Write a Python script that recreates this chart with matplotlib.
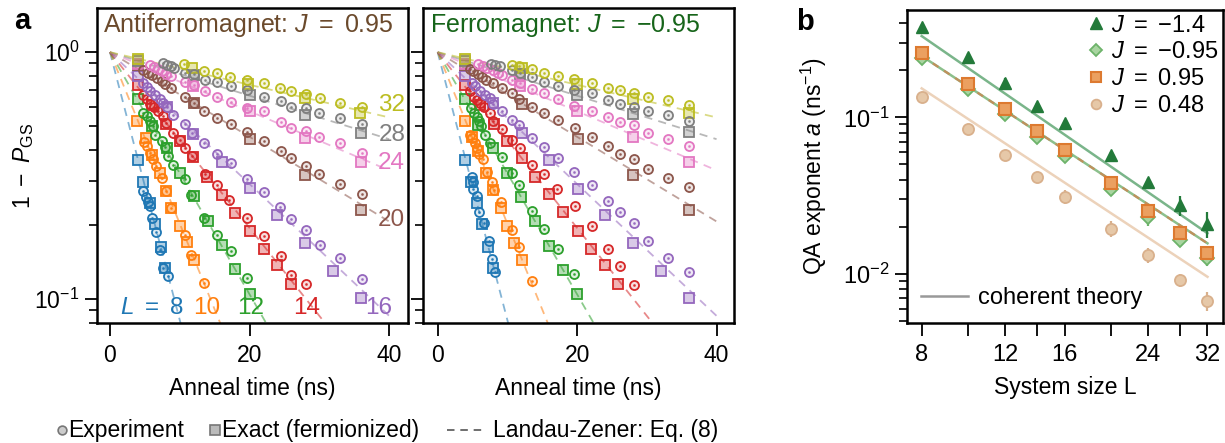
import matplotlib
matplotlib.use("Agg")
import matplotlib.pyplot as plt
import numpy as np
from matplotlib.lines import Line2D
from matplotlib.colors import to_rgba
from matplotlib.ticker import LogLocator, NullFormatter, FixedLocator, FixedFormatter, NullLocator

plt.rcParams['font.family'] = ['Liberation Sans', 'DejaVu Sans']
plt.rcParams['mathtext.fontset'] = 'custom'
plt.rcParams['mathtext.rm'] = 'Liberation Sans'
plt.rcParams['mathtext.it'] = 'Liberation Sans:italic'
plt.rcParams['mathtext.bf'] = 'Liberation Sans:bold'

# ---------------- data: panel a ----------------
L_vals = [8, 10, 12, 14, 16, 20, 24, 28, 32]
L_colors = ['#1f77b4', '#ff7f0e', '#2ca02c', '#d62728', '#9467bd',
            '#8c564b', '#e377c2', '#7f7f7f', '#bcbd22']

# Landau-Zener lines: value 1 at t=0 and value at t=40 ns
lz_t = [0, 40]
lz_end = [4.54e-5, 1.66e-3, 0.0109, 0.0376, 0.0854, 0.206, 0.332, 0.444, 0.544]

afm_exp_t = {
    8: [4.7, 5.1, 5.5, 5.8, 6.0, 6.6, 7.2, 7.6, 8.3],
    10: [4.9, 5.3, 5.7, 6.1, 6.6, 7.4, 8.0, 8.8, 10.7, 11.6, 13.5],
    12: [4.8, 5.3, 5.8, 6.1, 6.5, 7.4, 7.9, 8.3, 9.1, 10.7, 11.6, 13.5, 15.3, 17.4, 19.7],
    14: [4.7, 5.3, 5.7, 6.3, 6.9, 7.6, 8.0, 9.1, 10.0, 10.7, 11.7, 13.6, 15.3, 17.1, 19.6, 22.1, 24.5, 26.0, 28.1],
    16: [4.7, 5.3, 5.8, 6.5, 7.1, 7.6, 8.1, 9.1, 10.7, 11.8, 13.5, 15.3, 17.3, 19.6, 22.1, 24.4, 26.0, 28.1, 30.1, 33.0, 36.1],
    20: [4.8, 5.4, 6.0, 6.7, 7.4, 7.9, 8.8, 10.7, 12.1, 13.5, 15.3, 17.3, 19.6, 22.1, 24.5, 26.0, 28.1, 30.0, 33.0, 36.1],
    24: [5.7, 6.3, 6.9, 7.4, 8.0, 8.8, 10.7, 12.0, 13.6, 15.3, 17.3, 19.6, 22.1, 24.5, 26.0, 28.1, 30.0, 33.0, 36.1],
    28: [7.6, 8.1, 8.7, 9.2, 10.7, 12.1, 13.6, 15.3, 17.3, 19.6, 22.1, 24.5, 26.0, 28.1, 30.0, 33.0, 36.1],
    32: [10.6, 13.5, 15.3, 17.2, 19.6, 22.1, 24.4, 26.0, 28.1, 30.1, 32.9, 36.1],
}
afm_exp_v = {
    8: [0.275, 0.260, 0.248, 0.238, 0.212, 0.187, 0.158, 0.134, 0.124],
    10: [0.434, 0.415, 0.390, 0.368, 0.347, 0.308, 0.275, 0.233, 0.182, 0.151, 0.116],
    12: [0.569, 0.552, 0.524, 0.503, 0.462, 0.438, 0.412, 0.380, 0.349, 0.306, 0.264, 0.212, 0.182, 0.156, 0.122],
    14: [0.671, 0.645, 0.618, 0.598, 0.575, 0.552, 0.515, 0.472, 0.441, 0.408, 0.380, 0.321, 0.290, 0.252, 0.212, 0.180, 0.149, 0.125, 0.115],
    16: [0.749, 0.721, 0.699, 0.671, 0.645, 0.621, 0.602, 0.557, 0.512, 0.469, 0.428, 0.387, 0.355, 0.306, 0.270, 0.235, 0.210, 0.190, 0.165, 0.146, 0.120],
    20: [0.848, 0.827, 0.809, 0.785, 0.765, 0.742, 0.715, 0.657, 0.621, 0.578, 0.543, 0.512, 0.474, 0.437, 0.396, 0.372, 0.346, 0.320, 0.292, 0.266],
    24: [0.889, 0.869, 0.853, 0.835, 0.817, 0.797, 0.760, 0.738, 0.697, 0.657, 0.631, 0.593, 0.580, 0.519, 0.495, 0.481, 0.452, 0.428, 0.390],
    28: [0.903, 0.889, 0.875, 0.861, 0.827, 0.817, 0.772, 0.760, 0.726, 0.700, 0.661, 0.635, 0.602, 0.593, 0.569, 0.540, 0.511],
    32: [0.894, 0.840, 0.822, 0.792, 0.772, 0.748, 0.715, 0.697, 0.678, 0.651, 0.625, 0.598],
}
afm_exact_t = {
    8: [4.0, 4.8, 5.7, 6.5, 7.3, 7.9],
    10: [3.9, 5.1, 6.0, 7.1, 8.0, 8.8, 10.0, 11.1, 12.0],
    12: [4.0, 6.0, 8.1, 10.0, 12.1, 14.1, 16.0, 17.9, 20.1],
    14: [4.0, 6.0, 8.0, 10.0, 11.9, 13.9, 16.0, 17.9, 20.1, 22.1, 24.0, 26.0],
    16: [4.0, 8.1, 11.9, 16.0, 20.0, 23.9, 27.9, 32.0, 35.9],
    20: [4.0, 12.1, 20.1, 27.9, 35.9],
    24: [4.0, 11.9, 20.0, 27.9, 35.9],
    28: [4.0, 12.1, 20.0, 27.9, 35.9],
    32: [4.0, 11.8, 19.8, 27.9, 35.8],
}
afm_exact_v = {
    8: [0.366, 0.299, 0.244, 0.201, 0.162, 0.134],
    10: [0.527, 0.451, 0.384, 0.323, 0.275, 0.233, 0.198, 0.170, 0.144],
    12: [0.645, 0.503, 0.408, 0.325, 0.262, 0.206, 0.166, 0.132, 0.105],
    14: [0.733, 0.611, 0.512, 0.438, 0.375, 0.311, 0.264, 0.224, 0.189, 0.160, 0.137, 0.115],
    16: [0.802, 0.602, 0.465, 0.360, 0.281, 0.218, 0.168, 0.130, 0.101],
    20: [0.889, 0.621, 0.445, 0.318, 0.230],
    24: [0.895, 0.731, 0.575, 0.451, 0.358],
    28: [0.920, 0.809, 0.671, 0.557, 0.469],
    32: [0.940, 0.861, 0.744, 0.651, 0.566],
}

fm_exp_t = {
    8: [4.9, 5.1, 5.1, 5.7, 6.0, 6.6, 7.3, 7.8, 8.2],
    10: [4.6, 4.9, 5.4, 5.7, 6.0, 6.5, 7.1, 7.8, 8.1, 9.1, 10.7, 11.7, 13.5],
    12: [4.8, 5.2, 5.6, 5.9, 6.2, 6.8, 7.5, 9.2, 10.7, 11.7, 13.5, 15.2, 17.3, 19.6],
    14: [4.7, 5.2, 5.6, 6.1, 6.7, 7.5, 8.0, 9.2, 10.6, 11.8, 13.6, 15.3, 17.1, 19.7, 22.1, 24.4, 26.1, 28.1],
    16: [4.9, 5.4, 6.1, 6.8, 7.5, 8.0, 9.2, 10.7, 11.7, 13.5, 15.3, 17.2, 19.6, 22.1, 24.4, 26.1, 28.1, 30.1, 33.1, 36.1],
    20: [4.6, 5.1, 5.8, 6.3, 7.0, 8.0, 9.2, 10.7, 11.7, 13.5, 15.3, 17.3, 19.7, 22.1, 24.4, 26.1, 28.1, 30.1, 33.1, 36.1],
    24: [5.8, 6.5, 7.1, 7.9, 8.6, 9.2, 10.7, 11.8, 13.5, 15.3, 17.3, 19.6, 22.1, 24.4, 26.1, 28.1, 30.1, 33.1, 36.1],
    28: [7.7, 8.2, 8.9, 10.7, 11.8, 13.5, 15.3, 17.3, 19.6, 22.1, 24.4, 26.1, 28.1, 30.1, 33.1, 36.1],
    32: [10.7, 11.6, 13.5, 15.3, 17.3, 19.6, 22.1, 24.4, 26.1, 28.1, 30.1, 33.1, 36.1],
}
fm_exp_v = {
    8: [0.311, 0.299, 0.278, 0.262, 0.226, 0.203, 0.172, 0.145, 0.129],
    10: [0.462, 0.448, 0.430, 0.408, 0.387, 0.368, 0.328, 0.299, 0.277, 0.246, 0.191, 0.162, 0.118],
    12: [0.593, 0.569, 0.548, 0.524, 0.500, 0.462, 0.428, 0.375, 0.325, 0.290, 0.228, 0.192, 0.160, 0.126],
    14: [0.693, 0.661, 0.641, 0.621, 0.598, 0.569, 0.524, 0.488, 0.441, 0.408, 0.349, 0.321, 0.278, 0.238, 0.198, 0.160, 0.136, 0.114],
    16: [0.753, 0.731, 0.699, 0.671, 0.651, 0.618, 0.575, 0.532, 0.505, 0.451, 0.411, 0.372, 0.328, 0.290, 0.249, 0.225, 0.203, 0.171, 0.146, 0.128],
    20: [0.853, 0.840, 0.817, 0.792, 0.773, 0.748, 0.715, 0.682, 0.645, 0.597, 0.569, 0.532, 0.492, 0.455, 0.415, 0.387, 0.370, 0.337, 0.308, 0.284],
    24: [0.897, 0.880, 0.861, 0.843, 0.822, 0.809, 0.768, 0.749, 0.708, 0.682, 0.647, 0.606, 0.580, 0.545, 0.519, 0.505, 0.469, 0.444, 0.415],
    28: [0.897, 0.889, 0.875, 0.843, 0.822, 0.792, 0.760, 0.731, 0.703, 0.682, 0.641, 0.616, 0.602, 0.578, 0.557, 0.527],
    32: [0.889, 0.880, 0.853, 0.822, 0.797, 0.777, 0.748, 0.719, 0.703, 0.682, 0.657, 0.641, 0.611],
}
fm_exact_t = {
    8: [3.9, 4.8, 5.6, 6.4, 7.2, 8.0],
    10: [3.9, 4.9, 5.8, 6.9, 8.0, 9.1, 9.9, 11.0, 12.1],
    12: [3.9, 5.8, 8.0, 9.9, 12.0, 14.0, 16.0, 18.0, 20.0],
    14: [3.9, 6.1, 8.1, 10.0, 12.1, 14.0, 16.0, 18.0, 20.1, 22.0, 24.0, 25.9],
    16: [3.9, 8.0, 12.1, 15.9, 20.1, 24.0, 28.0, 32.0, 36.0],
    20: [3.9, 12.1, 20.1, 28.0, 36.0],
    24: [3.9, 11.8, 20.0, 28.0, 36.0],
    28: [3.9, 11.8, 20.0, 28.0, 36.0],
    32: [3.9, 12.1, 20.0, 28.0, 36.0],
}
fm_exact_v = {
    8: [0.364, 0.299, 0.244, 0.201, 0.163, 0.133],
    10: [0.524, 0.452, 0.396, 0.323, 0.277, 0.233, 0.198, 0.169, 0.144],
    12: [0.645, 0.507, 0.408, 0.323, 0.260, 0.206, 0.164, 0.131, 0.105],
    14: [0.738, 0.611, 0.512, 0.437, 0.374, 0.311, 0.266, 0.225, 0.189, 0.160, 0.137, 0.115],
    16: [0.800, 0.621, 0.469, 0.364, 0.279, 0.218, 0.168, 0.130, 0.101],
    20: [0.889, 0.617, 0.444, 0.318, 0.230],
    24: [0.895, 0.731, 0.575, 0.452, 0.360],
    28: [0.920, 0.814, 0.671, 0.562, 0.474],
    32: [0.940, 0.861, 0.744, 0.645, 0.566],
}

# ---------------- data: panel b ----------------
sizes = [8, 10, 12, 14, 16, 20, 24, 28, 32]
a_Jm14 = [0.376, 0.241, 0.165, 0.118, 0.0916, 0.0575, 0.0388, 0.0275, 0.021]
a_Jm095 = [0.238, 0.151, 0.105, 0.0753, 0.0567, 0.0347, 0.0232, 0.0166, 0.0126]
a_J095 = [0.257, 0.163, 0.113, 0.082, 0.0618, 0.0379, 0.0254, 0.0183, 0.0137]
a_J048 = [0.134, 0.0838, 0.0575, 0.0418, 0.0312, 0.0195, 0.0132, 0.00916, 0.00673]
err_Jm14 = [0.004, 0.018, 0.0125, 0.006, 0.0046, 0.0023, 0.0023, 0.0041, 0.0039]
err_Jm095 = [0.005, 0.004, 0.003, 0.002, 0.0017, 0.0012, 0.003, 0.0017, 0.0013]
err_J095 = [0.004, 0.003, 0.002, 0.0015, 0.0012, 0.0009, 0.0025, 0.0018, 0.0014]
err_J048 = [0.004, 0.003, 0.002, 0.002, 0.0031, 0.0022, 0.0015, 0.0009, 0.0009]
theory_L = [8, 32]
theory_m14 = [0.330, 0.0182]
theory_095 = [0.246, 0.0157]
theory_048 = [0.153, 0.0096]

W, H = 1225, 443
fig = plt.figure(figsize=(W / 100, H / 100), dpi=100)


def fax(x0, y0, x1, y1):
    return fig.add_axes([x0 / W, 1 - y1 / H, (x1 - x0) / W, (y1 - y0) / H])


FS = 16.5
ax1 = fax(97, 8, 408, 323)
ax2 = fax(423, 8, 734, 323)
axb = fax(907, 10, 1223, 323)


def draw_panel(ax, et, ev, xt, xv, xlim):
    for i, L in enumerate(L_vals):
        c = L_colors[i]
        ax.plot(lz_t, [1.0, lz_end[i]], ls=(0, (4.5, 3.5)), color=c, alpha=0.55, lw=1.3, zorder=1)
        ax.plot(xt[L], xv[L], 's', ls='none', ms=6.8, mfc=to_rgba(c, 0.35), mec=c, mew=1.3, zorder=2)
        ax.plot(et[L], ev[L], 'o', ls='none', ms=6.5, mfc=to_rgba(c, 0.15), mec=c, mew=1.3, zorder=3)
        ax.plot(et[L], ev[L], '.', ls='none', ms=2.0, color=c, alpha=0.8, zorder=4)
    ax.set_yscale('log')
    ax.set_ylim(0.0799, 1.51)
    ax.set_xlim(*xlim)
    ax.set_xticks([0, 20, 40])
    ax.yaxis.set_major_locator(FixedLocator([0.1, 1.0]))
    ax.yaxis.set_minor_locator(LogLocator(base=10, subs=np.arange(2, 10) * 0.1, numticks=20))
    ax.yaxis.set_minor_formatter(NullFormatter())
    ax.tick_params(axis='both', which='major', direction='out', length=9, width=1.3, labelsize=FS)
    ax.tick_params(axis='y', which='minor', direction='out', length=6, width=1.2)
    ax.tick_params(axis='x', which='major', pad=6)
    for s in ax.spines.values():
        s.set_linewidth(1.8)
    ax.set_xlabel('Anneal time (ns)', fontsize=FS, labelpad=7)


draw_panel(ax1, afm_exp_t, afm_exp_v, afm_exact_t, afm_exact_v, (-1.86, 42.7))
draw_panel(ax2, fm_exp_t, fm_exp_v, fm_exact_t, fm_exact_v, (-2.1, 42.5))
ax1.yaxis.set_major_formatter(FixedFormatter([r'$10^{-1}$', r'$10^{0}$']))
ax2.yaxis.set_major_formatter(NullFormatter())
ax1.set_ylabel(r'$1\ -\ P_{\mathrm{GS}}$', fontsize=FS, labelpad=-1)

ax1.text(0.019, 0.946, r'Antiferromagnet: $J\ =\ 0.95$', transform=ax1.transAxes,
         fontsize=18, color='#6b4a2c', va='center', ha='left')
ax2.text(0.022, 0.946, r'Ferromagnet: $J\ =\ {-}0.95$', transform=ax2.transAxes,
         fontsize=18, color='#17651a', va='center', ha='left')

# size labels
lab_fs = 17.5
ax1.text(42.3, 0.612, '32', color=L_colors[8], fontsize=lab_fs, ha='right', va='center')
ax1.text(42.3, 0.462, '28', color=L_colors[7], fontsize=lab_fs, ha='right', va='center')
ax1.text(42.3, 0.356, '24', color=L_colors[6], fontsize=lab_fs, ha='right', va='center')
ax1.text(42.3, 0.209, '20', color=L_colors[5], fontsize=lab_fs, ha='right', va='center')
ax1.text(40.4, 0.092, '16', color=L_colors[4], fontsize=lab_fs, ha='right', va='center')
ax1.text(28.2, 0.092, '14', color=L_colors[3], fontsize=lab_fs, ha='center', va='center')
ax1.text(20.2, 0.092, '12', color=L_colors[2], fontsize=lab_fs, ha='center', va='center')
ax1.text(13.9, 0.092, '10', color=L_colors[1], fontsize=lab_fs, ha='center', va='center')
ax1.text(1.4, 0.092, r'$L\ =\ 8$', color=L_colors[0], fontsize=lab_fs, ha='left', va='center')

# ---------------- panel b ----------------
c_m14 = '#237a3a'
c_m095 = '#6db36a'
c_095 = '#dd7a30'
c_048 = '#d9b08c'
axb.plot(theory_L, theory_m14, color='#7ab58a', lw=1.8, zorder=1)
axb.plot(theory_L, theory_095, color='#8cc08c', lw=1.8, zorder=1)
axb.plot(theory_L, theory_095, color='#c0905c', lw=1.6, ls=(0, (3, 3)), zorder=1)
axb.plot(theory_L, theory_048, color='#ecd2ba', lw=1.8, zorder=1)

axb.errorbar(sizes, a_J048, yerr=err_J048, fmt='o', ms=8, mfc='#e6c8a8', mec=c_048, mew=1.3,
             ecolor=c_048, elinewidth=1.6, capsize=0, zorder=3)
axb.errorbar(sizes, a_Jm095, yerr=err_Jm095, fmt='D', ms=7, mfc='#a8d5a0', mec=c_m095, mew=1.3,
             ecolor=c_m095, elinewidth=1.6, capsize=0, zorder=3)
axb.errorbar(sizes, a_J095, yerr=err_J095, fmt='s', ms=8, mfc='#eba060', mec=c_095, mew=1.5,
             ecolor=c_095, elinewidth=1.6, capsize=0, zorder=4)
axb.errorbar(sizes, a_Jm14, yerr=err_Jm14, fmt='^', ms=9, mfc=c_m14, mec=c_m14, mew=1.0,
             ecolor=c_m14, elinewidth=1.6, capsize=0, zorder=5)

axb.set_xscale('log', base=2)
axb.set_yscale('log')
axb.set_xlim(7.45, 34.5)
axb.set_ylim(0.00487, 0.484)
axb.xaxis.set_major_locator(FixedLocator(sizes))
axb.xaxis.set_major_formatter(FixedFormatter(['8', '', '12', '', '16', '', '24', '', '32']))
axb.xaxis.set_minor_locator(NullLocator())
axb.yaxis.set_major_locator(FixedLocator([0.01, 0.1]))
axb.yaxis.set_major_formatter(FixedFormatter([r'$10^{-2}$', r'$10^{-1}$']))
axb.yaxis.set_minor_locator(LogLocator(base=10, subs=np.arange(2, 10) * 0.1, numticks=20))
axb.yaxis.set_minor_formatter(NullFormatter())
axb.tick_params(axis='both', which='major', direction='out', length=9, width=1.3, labelsize=17)
axb.tick_params(axis='y', which='minor', direction='out', length=6, width=1.2)
axb.tick_params(axis='x', which='major', pad=6)
for s in axb.spines.values():
    s.set_linewidth(1.8)
axb.set_xlabel('System size L', fontsize=FS, labelpad=7)
axb.set_ylabel(r'QA exponent $a$ (ns$^{-1}$)', fontsize=FS, labelpad=10)

h1 = [Line2D([], [], marker='^', ls='none', ms=8, mfc=c_m14, mec=c_m14),
      Line2D([], [], marker='D', ls='none', ms=6.5, mfc='#a8d5a0', mec=c_m095, mew=1.3),
      Line2D([], [], marker='s', ls='none', ms=7, mfc='#eba060', mec=c_095, mew=1.5),
      Line2D([], [], marker='o', ls='none', ms=7, mfc='#e6c8a8', mec=c_048, mew=1.3)]
lab1 = [r'$J\ =\ {-}1.4$', r'$J\ =\ {-}0.95$', r'$J\ =\ 0.95$', r'$J\ =\ 0.48$']
leg1 = axb.legend(h1, lab1, loc='upper right', frameon=False, fontsize=17, handlelength=0.7,
                  handletextpad=0.3, labelspacing=0.2, borderaxespad=0.0, borderpad=0.2)
axb.add_artist(leg1)
leg2 = axb.legend([Line2D([], [], color='#999999', lw=1.8)], ['coherent theory'], loc='lower left',
                  frameon=False, fontsize=17, handlelength=2.0, handletextpad=0.4,
                  borderaxespad=0.3, borderpad=0.3)

# panel letters
fig.text(22 / W, 1 - 21 / H, 'a', fontsize=21, fontweight='bold', ha='center', va='center')
fig.text(805 / W, 1 - 22 / H, 'b', fontsize=21, fontweight='bold', ha='center', va='center')

# bottom legend
yl = 1 - 430 / H
fig.add_artist(Line2D([62 / W], [yl], transform=fig.transFigure, marker='o', ms=6.3,
                      mfc='#cccccc', mec='#777777', mew=1.2, ls='none'))
fig.text(68 / W, yl, 'Experiment', fontsize=FS, ha='left', va='center')
fig.add_artist(Line2D([215 / W], [yl], transform=fig.transFigure, marker='s', ms=6.8,
                      mfc='#bbbbbb', mec='#777777', mew=1.2, ls='none'))
fig.text(222 / W, yl, 'Exact (fermionized)', fontsize=FS, ha='left', va='center')
fig.add_artist(Line2D([447 / W, 484 / W], [yl, yl], transform=fig.transFigure, color='#555555',
                      lw=1.2, ls=(0, (4.5, 3.5))))
fig.text(493 / W, yl, 'Landau-Zener: Eq. (8)', fontsize=FS, ha='left', va='center')

fig.savefig('out.png', dpi=100)
